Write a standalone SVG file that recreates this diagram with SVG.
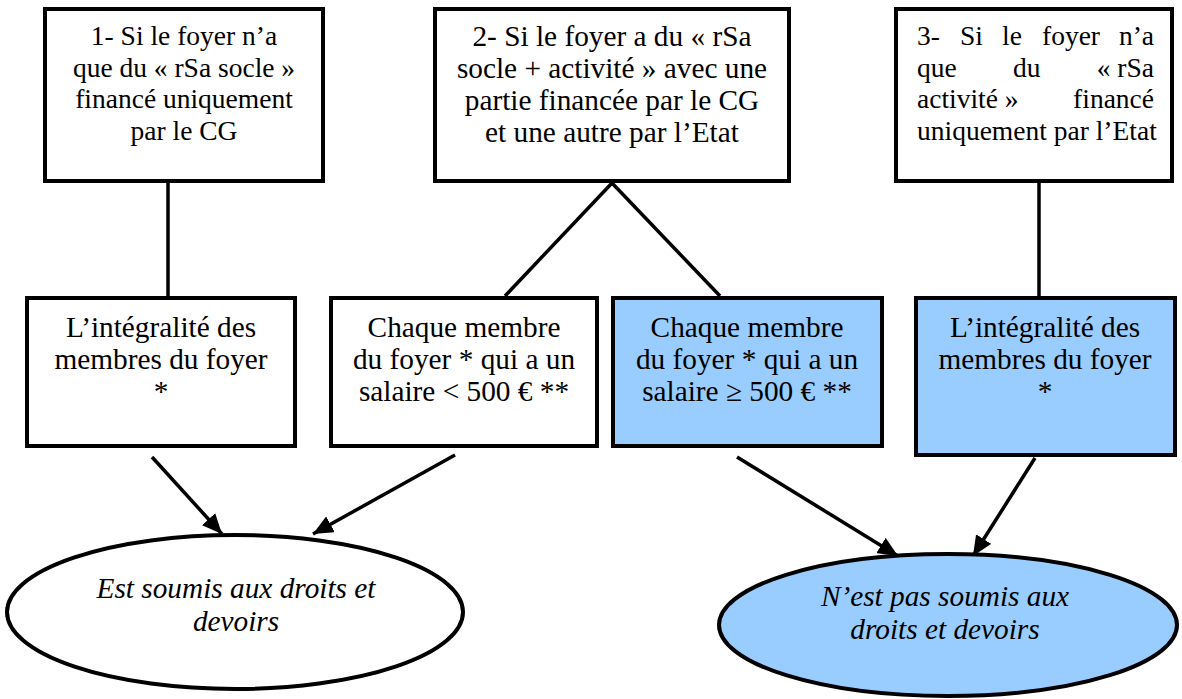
<svg xmlns="http://www.w3.org/2000/svg" width="1182" height="699" viewBox="0 0 1182 699">
<style>
.box{fill:#ffffff;stroke:#000;stroke-width:4}
.blue{fill:#99ccff}
.t{fill:#000}
.s1{font-size:27.5px}
.s2{font-size:29.3px}
.c{text-anchor:middle}
.it{font-style:italic}
.ln{stroke:#000;stroke-width:3.5;fill:none}
.ell{stroke:#000;stroke-width:4}
</style>
<defs>
<marker id="arr" markerUnits="userSpaceOnUse" markerWidth="22" markerHeight="18" refX="20" refY="9" orient="auto">
<path d="M0,0 L20,9 L0,18 Z" fill="#000"/>
</marker>
</defs>
<rect width="1182" height="699" fill="#fff"/>
<g id="connectors">
<line class="ln" x1="168" y1="183" x2="168" y2="296"/>
<line class="ln" x1="612" y1="183" x2="505" y2="296"/>
<line class="ln" x1="612" y1="183" x2="720" y2="296"/>
<line class="ln" x1="1039" y1="183" x2="1039" y2="296"/>
<line class="ln" x1="152" y1="457" x2="222" y2="534" marker-end="url(#arr)"/>
<line class="ln" x1="455" y1="455" x2="313" y2="534" marker-end="url(#arr)"/>
<line class="ln" x1="737" y1="457" x2="898" y2="556" marker-end="url(#arr)"/>
<line class="ln" x1="1035" y1="458" x2="973" y2="556" marker-end="url(#arr)"/>
</g>
<g font-family="'Liberation Serif', Tinos, 'Times New Roman', 'DejaVu Serif', serif">
<g id="n1">
<rect class="box" x="45" y="9" width="278" height="172"/>
<text class="t s1 c" x="184"><tspan x="184" y="45">1- Si le foyer n’a</tspan><tspan x="184" y="77">que du « rSa socle »</tspan><tspan x="184" y="108">financé uniquement</tspan><tspan x="184" y="140">par le CG</tspan></text>
</g>
<g id="n2">
<rect class="box" x="435" y="9" width="354" height="172"/>
<text class="t s2 c"><tspan x="612" y="46">2- Si le foyer a du « rSa</tspan><tspan x="612" y="78">socle + activité » avec une</tspan><tspan x="612" y="110">partie financée par le CG</tspan><tspan x="612" y="142">et une autre par l’Etat</tspan></text>
</g>
<g id="n3">
<rect class="box" x="896" y="9" width="276" height="172"/>
<text class="t s1"><tspan x="917" y="45">3-</tspan><tspan x="960" y="45">Si</tspan><tspan x="1002" y="45">le</tspan><tspan x="1042" y="45">foyer</tspan><tspan x="1154" y="45" text-anchor="end">n’a</tspan></text>
<text class="t s1"><tspan x="917" y="77">que</tspan><tspan x="1013" y="77">du</tspan><tspan x="1154" y="77" text-anchor="end">« rSa</tspan></text>
<text class="t s1"><tspan x="917" y="108">activité »</tspan><tspan x="1154" y="108" text-anchor="end">financé</tspan></text>
<text class="t s1"><tspan x="917" y="140">uniquement par l’Etat</tspan></text>
</g>
<g id="n4">
<rect class="box" x="27" y="298" width="268" height="148"/>
<text class="t s2 c"><tspan x="161" y="337">L’intégralité des</tspan><tspan x="161" y="369">membres du foyer</tspan><tspan x="161" y="401">*</tspan></text>
</g>
<g id="n5">
<rect class="box" x="331" y="298" width="266" height="148"/>
<text class="t s2 c"><tspan x="464" y="337">Chaque membre</tspan><tspan x="464" y="369">du foyer * qui a un</tspan><tspan x="464" y="401">salaire &lt; 500 € **</tspan></text>
</g>
<g id="n6">
<rect class="box blue" x="613" y="298" width="269" height="148"/>
<text class="t s2 c"><tspan x="747" y="337">Chaque membre</tspan><tspan x="747" y="369">du foyer * qui a un</tspan><tspan x="747" y="401">salaire ≥ 500 € **</tspan></text>
</g>
<g id="n7">
<rect class="box blue" x="916" y="298" width="259" height="157"/>
<text class="t s2 c"><tspan x="1045" y="337">L’intégralité des</tspan><tspan x="1045" y="369">membres du foyer</tspan><tspan x="1045" y="401">*</tspan></text>
</g>
<g id="n8">
<ellipse class="ell" cx="235" cy="612" rx="228" ry="77" fill="#fff"/>
<text class="t s2 c it"><tspan x="236" y="598">Est soumis aux droits et</tspan><tspan x="236" y="631">devoirs</tspan></text>
</g>
<g id="n9">
<ellipse class="ell" cx="948" cy="625" rx="229" ry="71" fill="#99ccff"/>
<text class="t s2 c it"><tspan x="945" y="606">N’est pas soumis aux</tspan><tspan x="945" y="639">droits et devoirs</tspan></text>
</g>
</g>
</svg>
